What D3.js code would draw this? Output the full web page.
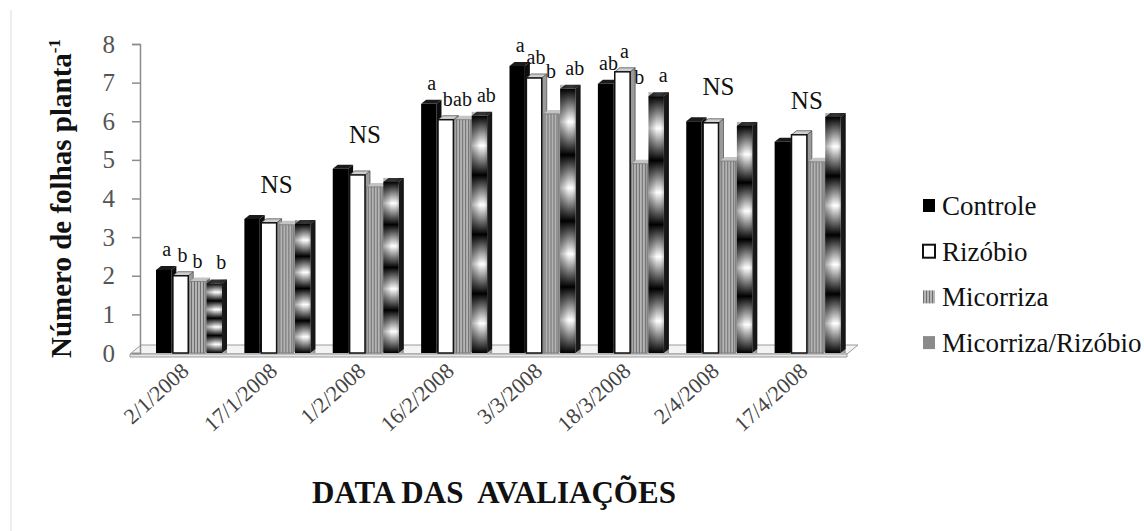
<!DOCTYPE html>
<html lang="pt">
<head>
<meta charset="UTF-8">
<title>Número de folhas planta</title>
<script src="https://cdn.jsdelivr.net/npm/d3@7"></script>
<style>
    body { margin: 0; background: #fff; }
</style>
</head>
<body>
<svg id="chart" width="1144" height="531"></svg>
<script>
// dados
const categories = ['2/1/2008', '17/1/2008', '1/2/2008', '16/2/2008', '3/3/2008', '18/3/2008', '2/4/2008', '17/4/2008'];
const series = ['Controle', 'Rizóbio', 'Micorriza', 'Micorriza/Rizóbio'];
const controle = [2.15, 3.47, 4.77, 6.45, 7.43, 6.97, 6.0, 5.47];
const rizobio = [2.0, 3.37, 4.61, 6.04, 7.12, 7.28, 5.96, 5.65];
const micorriza = [1.85, 3.32, 4.3, 6.04, 6.19, 4.9, 4.97, 4.95];
const micRiz = [1.8, 3.34, 4.43, 6.14, 6.84, 6.65, 5.88, 6.11];
// letras de significância (null = NS)
const sigLetters = [['a', 'b', 'b', 'b'], null, null, ['a', 'b', 'ab', 'ab'], ['a', 'ab', 'b', 'ab'], ['ab', 'a', 'b', 'a'], null, null];
const yTicks = [0, 1, 2, 3, 4, 5, 6, 7, 8];

const values = [controle, rizobio, micorriza, micRiz];
const FONT = '"Liberation Serif", "Times New Roman", Times, serif';

const svg = d3.select('#chart').attr('font-family', FONT);
const defs = svg.append('defs');

// faixa cinza listrada (Micorriza)
const stripes = defs.append('pattern')
    .attr('id', 'stripes')
    .attr('patternUnits', 'userSpaceOnUse')
    .attr('width', 3).attr('height', 10);
stripes.append('rect').attr('width', 3).attr('height', 10).attr('fill', '#b4b4b4');
stripes.append('rect').attr('width', 1).attr('height', 10).attr('fill', '#6e6e6e');

// gradiente em faixas (Micorriza/Rizóbio)
const gv = defs.append('linearGradient')
    .attr('id', 'mrV')
    .attr('x1', 0).attr('y1', 0).attr('x2', 0).attr('y2', 1);
d3.range(0, 9).forEach(i => {
    gv.append('stop')
        .attr('offset', i / 8)
        .attr('stop-color', i % 2 === 0 ? '#000' : '#fff');
});
const gh = defs.append('linearGradient')
    .attr('id', 'mrH')
    .attr('x1', 0).attr('y1', 0).attr('x2', 1).attr('y2', 0);
gh.append('stop').attr('offset', 0).attr('stop-color', '#000').attr('stop-opacity', 0.35);
gh.append('stop').attr('offset', 0.4).attr('stop-color', '#000').attr('stop-opacity', 0);
gh.append('stop').attr('offset', 0.6).attr('stop-color', '#000').attr('stop-opacity', 0);
gh.append('stop').attr('offset', 1).attr('stop-color', '#000').attr('stop-opacity', 0.45);

const x0 = d3.scaleBand().domain(categories).range([140, 847]);
const x1 = d3.scaleBand().domain(series).range([16, 82]).paddingInner(0.09);
const y = d3.scaleLinear().domain([0, 8]).range([353, 44]);

const dx = 5, dy = 4;   // profundidade 3D
const labelShift = [3, 2, 0, 7];

// moldura clara à esquerda
svg.append('line')
    .attr('x1', 11).attr('x2', 11).attr('y1', 10).attr('y2', 531)
    .attr('stroke', '#dcdcdc').attr('stroke-width', 1);

// piso
const x0L = x0.range()[0], x0R = x0.range()[1];
svg.append('path')
    .attr('d', `M${x0L - 10},${y(0) + 1}L${x0R},${y(0) + 1}L${x0R + 11},${y(0) - 8}L${x0L + 1},${y(0) - 8}Z`)
    .attr('fill', '#f3f3f3').attr('stroke', '#9a9a9a').attr('stroke-width', 1);
svg.append('path')
    .attr('d', `M${x0L - 10},${y(0) + 1}L${x0R},${y(0) + 1}L${x0R},${y(0) + 4}L${x0L - 10},${y(0) + 4}Z`)
    .attr('fill', '#e6e6e6').attr('stroke', '#9a9a9a').attr('stroke-width', 1);

// eixo y
const yAxis = svg.append('g')
    .attr('transform', `translate(${x0L},0)`)
    .call(d3.axisLeft(y).tickValues(yTicks).tickSize(8).tickPadding(17).tickFormat(d3.format('d')));
yAxis.attr('font-family', FONT);
yAxis.select('.domain').attr('stroke', '#8c8c8c').attr('stroke-width', 1.5);
yAxis.selectAll('.tick line').attr('stroke', '#8c8c8c').attr('stroke-width', 1.5);
yAxis.selectAll('.tick text')
    .attr('font-size', 25).attr('fill', '#555');

// estilos das barras
const styles = [
    { front: '#000', top: '#1a1a1a', side: '#0d0d0d', stroke: '#000' },
    { front: '#fff', top: '#cfcfcf', side: '#9a9a9a', stroke: '#111' },
    { front: 'url(#stripes)', top: '#c4c4c4', side: '#8e8e8e', stroke: '#777' },
    { front: 'url(#mrV)', top: '#333', side: '#222', stroke: 'none' }
];

categories.forEach((cat, ci) => {
    const g = svg.append('g').attr('transform', `translate(${x0(cat)},0)`);
    series.forEach((s, si) => {
        const v = values[si][ci];
        const st = styles[si];
        const bx = x1(s), bw = x1.bandwidth();
        const yt = y(v), yb = y(0);
        // face lateral
        g.append('path')
            .attr('d', `M${bx + bw},${yt}L${bx + bw + dx},${yt - dy}L${bx + bw + dx},${yb - dy}L${bx + bw},${yb}Z`)
            .attr('fill', st.side).attr('stroke', si === 1 ? '#555' : 'none').attr('stroke-width', 0.8);
        // topo
        g.append('path')
            .attr('d', `M${bx},${yt}L${bx + dx},${yt - dy}L${bx + bw + dx},${yt - dy}L${bx + bw},${yt}Z`)
            .attr('fill', st.top).attr('stroke', si === 1 ? '#555' : 'none').attr('stroke-width', 0.8);
        // frente
        g.append('rect')
            .attr('x', bx).attr('y', yt).attr('width', bw).attr('height', yb - yt)
            .attr('fill', st.front)
            .attr('stroke', st.stroke).attr('stroke-width', si === 1 ? 1.5 : (si === 2 ? 0.8 : 0));
        if (si === 3) {
            g.append('rect')
                .attr('x', bx).attr('y', yt - dy).attr('width', bw + dx).attr('height', yb - yt + dy)
                .attr('fill', 'url(#mrH)');
        }
    });

    // rótulos
    const tops = series.map((s, si) => y(values[si][ci]));
    const minTop = d3.min(tops);
    const letters = sigLetters[ci];
    if (letters) {
        letters.forEach((t, si) => {
            g.append('text')
                .attr('x', x1(series[si]) + x1.bandwidth() / 2 + labelShift[si])
                .attr('y', Math.min(tops[si] - 14, minTop + 12))
                .attr('text-anchor', 'middle')
                .attr('font-size', 20).attr('fill', '#111')
                .text(t);
        });
    } else {
        g.append('text')
            .attr('x', x0.bandwidth() / 2 + 4)
            .attr('y', Math.min(tops[0], tops[1]) - 26)
            .attr('text-anchor', 'middle')
            .attr('font-size', 25).attr('fill', '#111')
            .text('NS');
    }

    // rótulo do eixo x
    svg.append('text')
        .attr('transform', `translate(${x0(cat) + x0.bandwidth() / 2 + 6},${y(0) + 20}) rotate(-42)`)
        .attr('text-anchor', 'end')
        .attr('font-size', 22).attr('fill', '#444')
        .text(cat);
});

// títulos
svg.append('text')
    .attr('transform', `translate(71,${(360 + 37) / 2}) rotate(-90)`)
    .attr('text-anchor', 'middle')
    .attr('font-size', 29).attr('font-weight', 'bold').attr('fill', '#111')
    .html('Número de folhas planta<tspan dy="-11" font-size="17">-1</tspan>');

svg.append('text')
    .attr('x', 494).attr('y', 503)
    .attr('text-anchor', 'middle')
    .attr('font-size', 31).attr('font-weight', 'bold').attr('fill', '#111')
    .style('white-space', 'pre')
    .text('DATA DAS  AVALIAÇÕES');

// legenda
const legend = svg.append('g').attr('transform', 'translate(923,205)');
const legFill = ['#000', '#fff', 'url(#stripes)', '#8a8a8a'];
series.forEach((s, si) => {
    const row = legend.append('g').attr('transform', `translate(0,${si * 45.7})`);
    row.append('rect')
        .attr('x', 0).attr('y', -6).attr('width', 12).attr('height', 13)
        .attr('fill', legFill[si])
        .attr('stroke', si === 1 ? '#111' : 'none').attr('stroke-width', 2);
    row.append('text')
        .attr('x', 19).attr('y', 10)
        .attr('font-size', 27).attr('fill', '#111')
        .text(s);
});
</script>
</body>
</html>
